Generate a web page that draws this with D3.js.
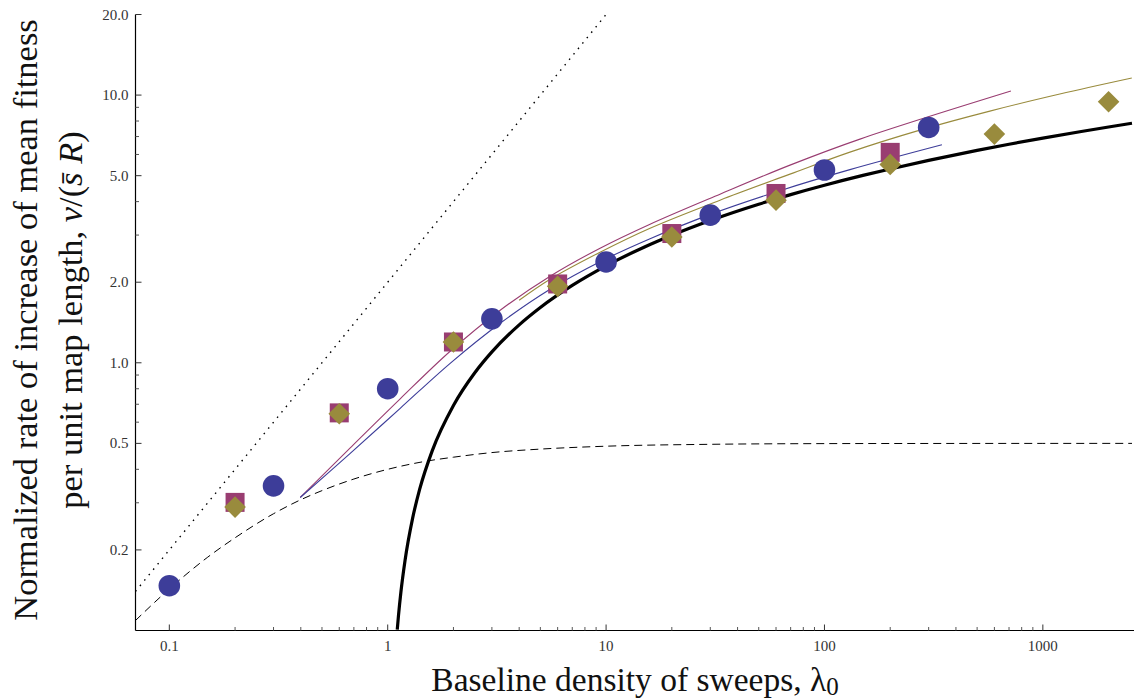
<!DOCTYPE html>
<html>
<head>
<meta charset="utf-8">
<script src="https://cdn.jsdelivr.net/npm/d3@7"></script>
<style>
  html, body { margin: 0; padding: 0; background: #fff; }
  svg { display: block; }
  text { font-family: "Liberation Serif", "DejaVu Serif", serif; }
</style>
</head>
<body>
<svg id="chart" width="1134" height="700"></svg>
<script>
// Simulated points (baseline sweep density λ0 vs normalized rate)
const lambdaCircles = [0.1, 0.3, 1, 3, 10, 30, 100, 300];
const vCircles      = [0.147, 0.347, 0.80, 1.46, 2.38, 3.56, 5.25, 7.57];
const lambdaSquares = [0.2, 0.6, 2, 6, 20, 60, 200];
const vSquares      = [0.301, 0.65, 1.196, 1.97, 3.04, 4.29, 6.11];
const lambdaDiamonds = [0.2, 0.6, 2, 6, 20, 60, 200, 600, 2000];
const vDiamonds      = [0.289, 0.645, 1.196, 1.93, 2.95, 4.05, 5.51, 7.15, 9.44];

// Thin approximation curves, one per simulated series
const lambdaBlueCurve = [0.3977, 0.6736, 1.1407, 1.932, 3.273, 5.542, 9.387, 15.90, 30.24, 62.56, 130.8, 345.0];
const vBlueCurve      = [0.314, 0.4587, 0.6761, 0.9957, 1.4049, 1.8829, 2.3862, 2.9083, 3.5917, 4.3955, 5.2665, 6.5218];
const lambdaMagentaCurve = [0.3977, 0.6736, 1.1407, 1.932, 3.273, 5.542, 9.387, 15.90, 33.24, 69.53, 145.4, 713.9];
const vMagentaCurve      = [0.314, 0.4813, 0.7335, 1.1041, 1.5712, 2.1056, 2.6797, 3.2944, 4.2650, 5.4745, 6.8481, 10.35];
const lambdaOliveCurve = [3.998, 5.542, 9.387, 15.90, 33.24, 69.53, 130.8, 273.6, 572.0, 1196, 2555];
const vOliveCurve      = [1.7128, 2.0521, 2.5887, 3.1825, 4.0506, 5.0666, 6.1220, 7.3978, 8.7135, 10.087, 11.575];

// Thick asymptotic curve
const lambdaThick = [1.106, 1.12, 1.15, 1.2, 1.3, 1.4, 1.6, 2, 2.5, 3, 4, 5, 7, 10, 15, 20, 30, 50, 70,
                     100, 150, 200, 300, 500, 700, 1000, 1500, 2000, 2560];
const vThick      = [0.1008, 0.1133, 0.1398, 0.1823, 0.2624, 0.3365, 0.4700, 0.6931, 0.9163, 1.0986,
                     1.3863, 1.6094, 1.9459, 2.3026, 2.7081, 2.9957, 3.4012, 3.9120, 4.2485, 4.6052,
                     5.0106, 5.2983, 5.7038, 6.2146, 6.5511, 6.9078, 7.3132, 7.6009, 7.8478];

// Dashed saturating curve and dotted low-density limit
const lambdaDashed = [0.07, 0.1, 0.15, 0.2, 0.3, 0.4, 0.5, 0.7, 1, 1.5, 2, 3, 5, 10, 30, 100, 300, 1000, 2560];
const vDashed      = [0.109, 0.143, 0.188, 0.222, 0.273, 0.308, 0.333, 0.368, 0.400, 0.429, 0.444, 0.462,
                      0.476, 0.488, 0.496, 0.499, 0.4996, 0.4999, 0.5];
const lambdaDotted = [0.07, 10];
const vDotted      = [0.14, 20];

// Axis ticks
const xMajorTicks = [0.1, 1, 10, 100, 1000];
const xMajorLabels = ["0.1", "1", "10", "100", "1000"];
const xMinorTicks = [0.2, 0.3, 0.4, 0.5, 0.6, 0.7, 0.8, 0.9, 2, 3, 4, 5, 6, 7, 8, 9,
                     20, 30, 40, 50, 60, 70, 80, 90, 200, 300, 400, 500, 600, 700, 800, 900];
const yMajorTicks = [0.2, 0.5, 1, 2, 5, 10, 20];
const yMajorLabels = ["0.2", "0.5", "1.0", "2.0", "5.0", "10.0", "20.0"];
const yMinorTicks = [0.3, 0.4, 0.6, 0.7, 0.8, 0.9, 3, 4, 6, 7, 8, 9];

const colBlue = "#3d3d99", colMagenta = "#993d71", colOlive = "#998b3d";

const svg = d3.select("#chart");
const plotLeft = 135.5, plotRight = 1132, plotTop = 14.5, plotBottom = 630.5;

const x = d3.scaleLog().domain([0.07, 2560]).range([plotLeft, plotRight]);
const y = d3.scaleLog().domain([0.1, 20]).range([plotBottom, plotTop]);

svg.append("defs").append("clipPath").attr("id", "plotClip")
  .append("rect").attr("x", plotLeft).attr("y", plotTop - 1)
  .attr("width", plotRight - plotLeft + 2).attr("height", plotBottom - plotTop + 1);

const plot = svg.append("g").attr("clip-path", "url(#plotClip)");

function series(ls, vs) { return ls.map((l, i) => [l, vs[i]]); }
const line = d3.line().x(d => x(d[0])).y(d => y(d[1])).curve(d3.curveMonotoneX);
const smoothLine = d3.line().x(d => x(d[0])).y(d => y(d[1])).curve(d3.curveCatmullRom.alpha(0.5));

// Reference curves
plot.append("path").datum(series(lambdaDotted, vDotted)).attr("d", line)
  .attr("fill", "none").attr("stroke", "#000").attr("stroke-width", 1.4).attr("stroke-dasharray", "1.5,5.5");
plot.append("path").datum(series(lambdaDashed, vDashed)).attr("d", line)
  .attr("fill", "none").attr("stroke", "#000").attr("stroke-width", 1).attr("stroke-dasharray", "8,5");
plot.append("path").datum(series(lambdaThick, vThick)).attr("d", line)
  .attr("fill", "none").attr("stroke", "#000").attr("stroke-width", 3.2);

// Thin fitted curves
plot.append("path").datum(series(lambdaOliveCurve, vOliveCurve)).attr("d", smoothLine)
  .attr("fill", "none").attr("stroke", colOlive).attr("stroke-width", 1.1);
plot.append("path").datum(series(lambdaMagentaCurve, vMagentaCurve)).attr("d", smoothLine)
  .attr("fill", "none").attr("stroke", colMagenta).attr("stroke-width", 1.1);
plot.append("path").datum(series(lambdaBlueCurve, vBlueCurve)).attr("d", smoothLine)
  .attr("fill", "none").attr("stroke", colBlue).attr("stroke-width", 1.1);

// Markers
svg.append("g").selectAll("circle").data(series(lambdaCircles, vCircles)).join("circle")
  .attr("cx", d => x(d[0])).attr("cy", d => y(d[1])).attr("r", 10.8).attr("fill", colBlue);
svg.append("g").selectAll("rect").data(series(lambdaSquares, vSquares)).join("rect")
  .attr("x", d => x(d[0]) - 9.5).attr("y", d => y(d[1]) - 9.5).attr("width", 19).attr("height", 19)
  .attr("fill", colMagenta);
const dSize = 10.8;
svg.append("g").selectAll("path").data(series(lambdaDiamonds, vDiamonds)).join("path")
  .attr("transform", d => `translate(${x(d[0])},${y(d[1])})`)
  .attr("d", `M0,${-dSize}L${dSize},0L0,${dSize}L${-dSize},0Z`)
  .attr("fill", colOlive);

// Axes
const axes = svg.append("g");
axes.append("line").attr("x1", plotLeft).attr("x2", plotRight + 2).attr("y1", plotBottom).attr("y2", plotBottom)
  .attr("stroke", "#000").attr("stroke-width", 1.2);
axes.append("line").attr("x1", plotLeft).attr("x2", plotLeft).attr("y1", plotTop).attr("y2", plotBottom)
  .attr("stroke", "#000").attr("stroke-width", 1.2);

axes.selectAll(".xmaj").data(xMajorTicks).join("line").attr("class", "xmaj")
  .attr("x1", d => x(d)).attr("x2", d => x(d)).attr("y1", plotBottom).attr("y2", plotBottom - 6)
  .attr("stroke", "#333").attr("stroke-width", 1);
axes.selectAll(".xmin").data(xMinorTicks).join("line").attr("class", "xmin")
  .attr("x1", d => x(d)).attr("x2", d => x(d)).attr("y1", plotBottom).attr("y2", plotBottom - 3.5)
  .attr("stroke", "#555").attr("stroke-width", 1);
axes.selectAll(".ymaj").data(yMajorTicks).join("line").attr("class", "ymaj")
  .attr("x1", plotLeft).attr("x2", plotLeft + 6).attr("y1", d => y(d)).attr("y2", d => y(d))
  .attr("stroke", "#333").attr("stroke-width", 1);
axes.selectAll(".ymin").data(yMinorTicks).join("line").attr("class", "ymin")
  .attr("x1", plotLeft).attr("x2", plotLeft + 3.5).attr("y1", d => y(d)).attr("y2", d => y(d))
  .attr("stroke", "#555").attr("stroke-width", 1);

axes.selectAll(".xlab").data(xMajorTicks).join("text").attr("class", "xlab")
  .attr("x", d => x(d)).attr("y", plotBottom + 20).attr("text-anchor", "middle")
  .attr("font-size", 15).attr("fill", "#333").text((d, i) => xMajorLabels[i]);
axes.selectAll(".ylab").data(yMajorTicks).join("text").attr("class", "ylab")
  .attr("x", plotLeft - 7).attr("y", d => y(d) + 5).attr("text-anchor", "end")
  .attr("font-size", 15).attr("fill", "#333").text((d, i) => yMajorLabels[i]);

// Axis titles
const xt = svg.append("text").attr("x", 635).attr("y", 691).attr("text-anchor", "middle")
  .attr("font-size", 33.5).attr("fill", "#111");
xt.append("tspan").text("Baseline density of sweeps, λ");
xt.append("tspan").attr("font-size", 25).attr("dy", 3.5).text("0");

const yt = svg.append("g").attr("transform", "translate(37,320) rotate(-90)");
yt.append("text").attr("x", 0).attr("y", 0).attr("text-anchor", "middle")
  .attr("font-size", 34.5).attr("fill", "#111").text("Normalized rate of increase of mean fitness");
const yt2 = yt.append("text").attr("x", 0).attr("y", 45).attr("text-anchor", "middle")
  .attr("font-size", 34.5).attr("fill", "#111");
yt2.append("tspan").text("per unit map length, ");
yt2.append("tspan").attr("font-style", "italic").text("v");
yt2.append("tspan").text("/(");
yt2.append("tspan").attr("font-style", "italic").text("s\u0304");
yt2.append("tspan").text(" ");
yt2.append("tspan").attr("font-style", "italic").text("R");
yt2.append("tspan").text(")");
</script>
</body>
</html>
